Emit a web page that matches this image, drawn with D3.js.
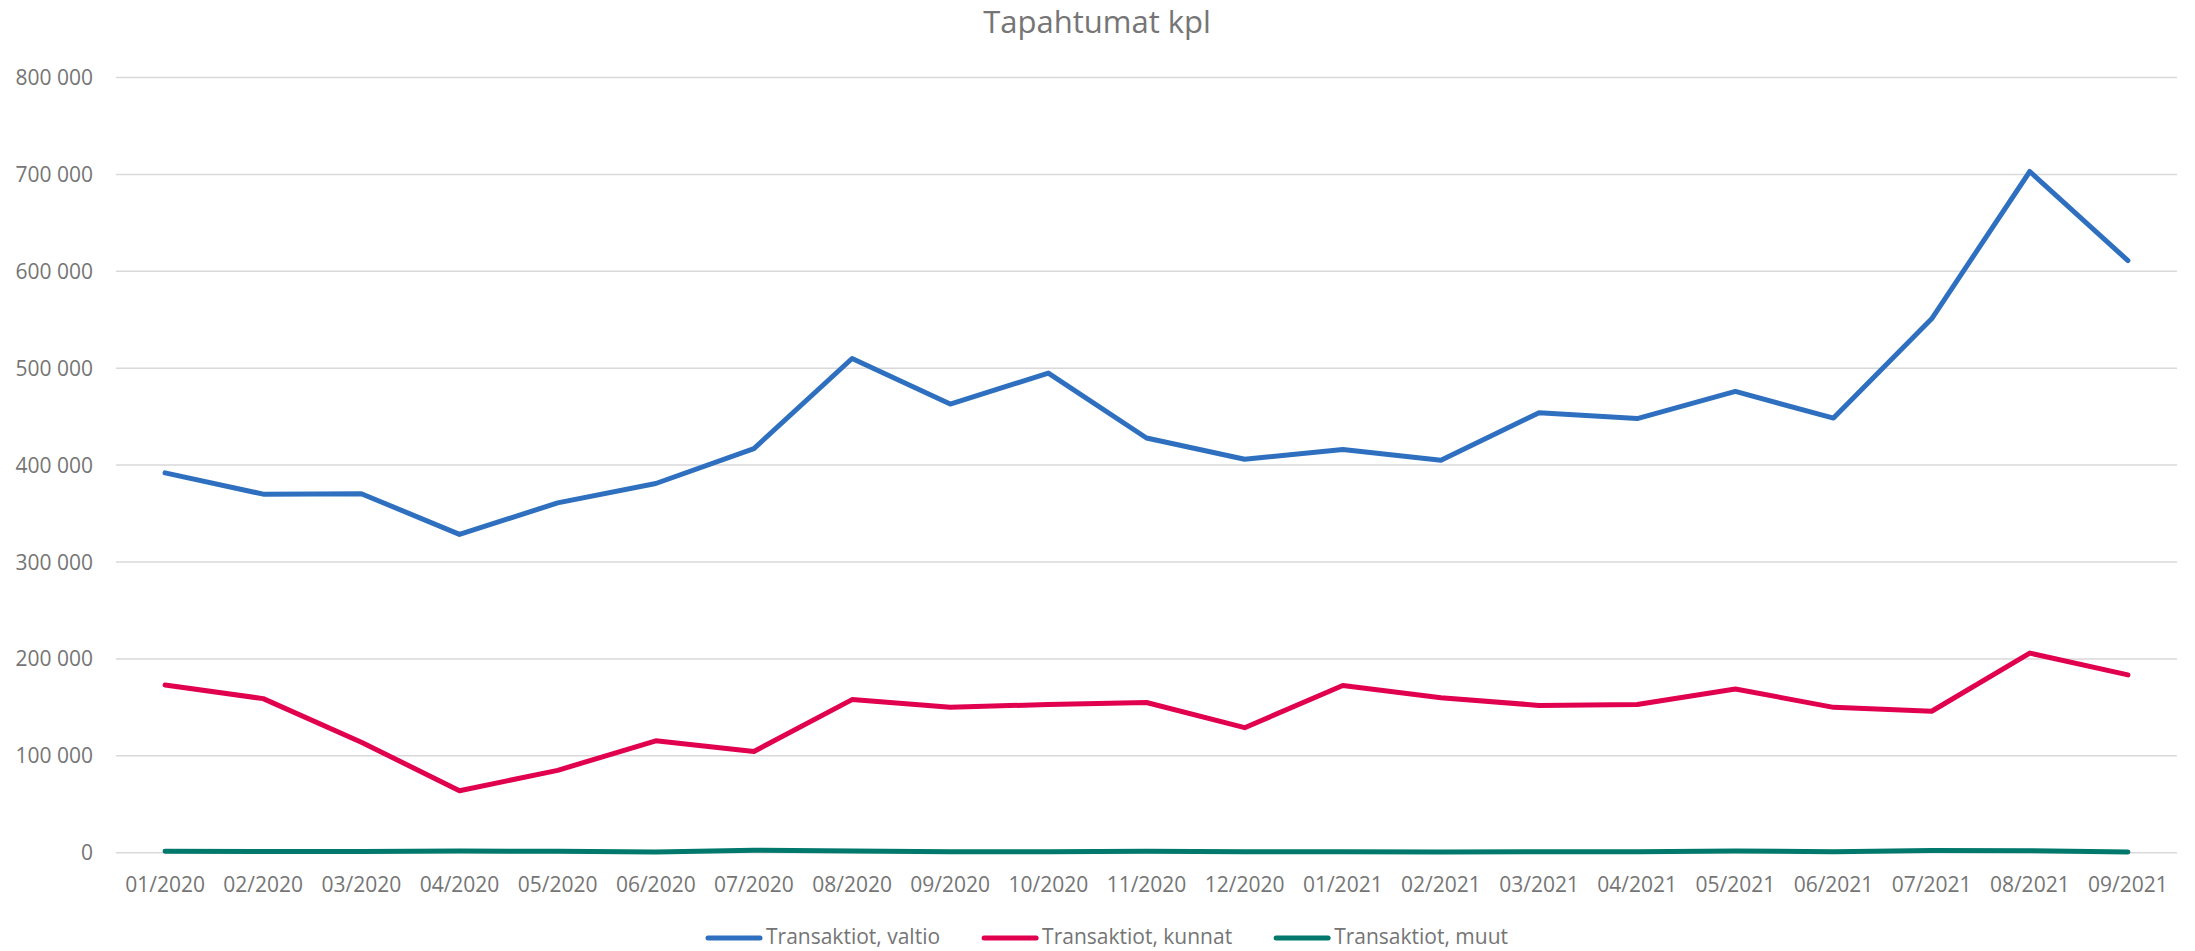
<!DOCTYPE html>
<html>
<head>
<meta charset="utf-8">
<title>Tapahtumat kpl</title>
<style>
  body { margin: 0; background: #fff; }
  svg { display: block; font-family: "Open Sans", "Noto Sans", sans-serif; }
  .grid line { stroke: #d9d9d9; stroke-width: 1.5; }
  .lbl { fill: #757575; font-size: 21px; }
</style>
</head>
<body>
<svg width="2195" height="951"></svg>
<script src="https://d3js.org/d3.v7.min.js"></script>
<script>

  const months = ["01/2020","02/2020","03/2020","04/2020","05/2020","06/2020","07/2020",
                  "08/2020","09/2020","10/2020","11/2020","12/2020","01/2021","02/2021",
                  "03/2021","04/2021","05/2021","06/2021","07/2021","08/2021","09/2021"];

  const valtio = [392000,370000,370500,328500,361000,381000,417000,510000,463000,495000,428000,
                  406000,416000,405000,454000,448000,476000,448500,551000,703000,611000];

  const kunnat = [173000,159000,114000,64000,85000,115500,104500,158000,150000,153000,155000,
                  129000,172500,160000,152000,153000,169000,150000,146000,206000,183500];

  const muut = [1500,1200,1300,1800,1400,800,2500,1800,1000,1000,1500,
                1000,1000,800,900,1000,1800,1000,2300,2000,800];

  const yTicks = [0,100000,200000,300000,400000,500000,600000,700000,800000];

  const series = [
    {name: "Transaktiot, valtio", values: valtio, color: "#2e70bf"},
    {name: "Transaktiot, kunnat", values: kunnat, color: "#e1004e"},
    {name: "Transaktiot, muut",   values: muut,   color: "#00786c"}
  ];

  const svg = d3.select("svg");

  const x = d3.scaleBand().domain(months).range([116, 2177]);
  const y = d3.scaleLinear().domain([0, 800000]).range([852.7, 77.5]);

  const fmt = d3.formatLocale({decimal: ",", thousands: "\u00a0", grouping: [3], currency: ["", "€"]}).format(",");

  // title
  svg.append("text")
    .attr("x", 1097).attr("y", 33)
    .attr("text-anchor", "middle")
    .attr("fill", "#757575")
    .style("font-size", "31px")
    .text("Tapahtumat kpl");

  // gridlines
  const grid = svg.append("g").attr("class", "grid");
  grid.selectAll("line").data(yTicks).enter().append("line")
    .attr("x1", 116).attr("x2", 2177)
    .attr("y1", d => y(d)).attr("y2", d => y(d));

  // y labels
  svg.append("g").selectAll("text").data(yTicks).enter().append("text")
    .attr("class", "lbl")
    .attr("x", 93)
    .attr("y", d => y(d))
    .attr("dy", "0.36em")
    .attr("text-anchor", "end")
    .text(d => fmt(d));

  // x labels
  svg.append("g").selectAll("text").data(months).enter().append("text")
    .attr("class", "lbl")
    .attr("x", d => x(d) + x.bandwidth() / 2)
    .attr("y", 892)
    .attr("text-anchor", "middle")
    .text(d => d);

  const line = d3.line()
    .x((d, i) => x(months[i]) + x.bandwidth() / 2)
    .y(d => y(d));

  svg.append("g").selectAll("path").data(series.slice().reverse()).enter().append("path")
    .attr("d", d => line(d.values))
    .attr("fill", "none")
    .attr("stroke", d => d.color)
    .attr("stroke-width", 5)
    .attr("stroke-linejoin", "round")
    .attr("stroke-linecap", "round");

  // legend
  const legend = svg.append("g");
  let lx = 706;
  series.forEach(s => {
    legend.append("line")
      .attr("x1", lx + 2).attr("x2", lx + 54)
      .attr("y1", 938).attr("y2", 938)
      .attr("stroke", s.color)
      .attr("stroke-width", 5)
      .attr("stroke-linecap", "round");
    const t = legend.append("text")
      .attr("class", "lbl")
      .attr("x", lx + 60).attr("y", 944)
      .text(s.name);
    lx += 60 + t.node().getComputedTextLength() + 42;
  });

</script>
</body>
</html>
